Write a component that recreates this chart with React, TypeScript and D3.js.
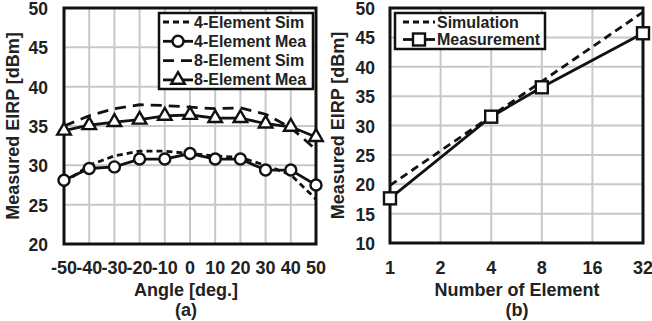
import React from 'react';
import * as d3 from 'd3';

// (a) angle sweep
const angles = [-50, -40, -30, -20, -10, 0, 10, 20, 30, 40, 50];
const sim4 = [27.8, 30.0, 31.2, 31.8, 31.8, 31.5, 31.2, 31.0, 30.0, 28.8, 25.7];
const mea4 = [28.1, 29.6, 29.8, 30.8, 30.8, 31.5, 30.8, 30.8, 29.4, 29.4, 27.5];
const sim8 = [35.0, 36.3, 37.2, 37.7, 37.6, 37.4, 37.2, 37.3, 36.5, 34.8, 32.0];
const mea8 = [34.4, 35.1, 35.5, 35.8, 36.3, 36.4, 36.0, 36.0, 35.3, 34.9, 33.6];
const yTicksA = [20, 25, 30, 35, 40, 45, 50];

// (b) element count
const elements = [1, 2, 4, 8, 16, 32];
const simB = [19.8, 25.7, 31.6, 37.5, 43.4, 49.3];
const meaElements = [1, 4, 8, 32];
const meaB = [17.6, 31.5, 36.5, 45.7];
const yTicksB = [10, 15, 20, 25, 30, 35, 40, 45, 50];

const FONT = 'Arial, "Liberation Sans", sans-serif';
const GRID = '#c8c8c8';
const FS = 18;
const TFS = 17.5;
const LFS = 16;

const App = () => {
  // panel (a)
  const xA = d3.scaleLinear().domain([-50, 50]).range([64, 316]);
  const yA = d3.scaleLinear().domain([20, 50]).range([244, 8]);
  // panel (b)
  const xB = d3.scaleLog().base(2).domain([1, 32]).range([390, 643]);
  const yB = d3.scaleLinear().domain([10, 50]).range([243, 8]);

  const lineA = d3.line<number>().x((_, i) => xA(angles[i])).y(d => yA(d));
  const lineSimB = d3.line<number>().x((_, i) => xB(elements[i])).y(d => yB(d));
  const lineMeaB = d3.line<number>().x((_, i) => xB(meaElements[i])).y(d => yB(d));

  const tri = d3.symbol().type(d3.symbolTriangle).size(80)();

  const legendA = [
    { label: '4-Element Sim', dash: '6,4', marker: 'none' },
    { label: '4-Element Mea', dash: '', marker: 'circle' },
    { label: '8-Element Sim', dash: '11,7', marker: 'none' },
    { label: '8-Element Mea', dash: '', marker: 'tri' },
  ];

  return (
    <svg width={652} height={321} style={{ position: 'absolute', left: 0, top: 0, background: '#fff' }}
      fontFamily={FONT} fontWeight="bold">
      {/* ---------- panel (a) ---------- */}
      <g>
        {angles.map(a => (
          <line key={'gx' + a} x1={xA(a)} x2={xA(a)} y1={yA(50)} y2={yA(20)} stroke={GRID} strokeWidth={2} />
        ))}
        {yTicksA.map(t => (
          <line key={'gy' + t} x1={xA(-50)} x2={xA(50)} y1={yA(t)} y2={yA(t)} stroke={GRID} strokeWidth={2} />
        ))}
        <rect x={xA(-50)} y={yA(50)} width={xA(50) - xA(-50)} height={yA(20) - yA(50)} fill="none" stroke="#111" strokeWidth={3} />
        {yTicksA.map(t => (
          <text key={'ty' + t} x={48} y={yA(t) + 1} textAnchor="end" dominantBaseline="central" fontSize={TFS} fill="#222">{t}</text>
        ))}
        {angles.map(a => (
          <text key={'tx' + a} x={xA(a)} y={268} textAnchor="middle" dominantBaseline="central" fontSize={FS} fill="#222">{a}</text>
        ))}
        <text x={186} y={290} textAnchor="middle" dominantBaseline="central" fontSize={FS} fill="#222">Angle [deg.]</text>
        <text x={186} y={310} textAnchor="middle" dominantBaseline="central" fontSize={FS} fill="#222">(a)</text>
        <text transform={`translate(13,${(yA(20) + yA(50)) / 2}) rotate(-90)`} textAnchor="middle" dominantBaseline="central" fontSize={FS} fill="#222">Measured EIRP [dBm]</text>

        <path d={lineA(sim4) || ''} fill="none" stroke="#111" strokeWidth={2.8} strokeDasharray="6,4" />
        <path d={lineA(sim8) || ''} fill="none" stroke="#111" strokeWidth={2.8} strokeDasharray="11,7" />
        <path d={lineA(mea4) || ''} fill="none" stroke="#111" strokeWidth={2.8} />
        <path d={lineA(mea8) || ''} fill="none" stroke="#111" strokeWidth={2.8} />
        {mea4.map((v, i) => (
          <circle key={'c' + i} cx={xA(angles[i])} cy={yA(v)} r={5.5} fill="#fff" stroke="#111" strokeWidth={2.4} />
        ))}
        {mea8.map((v, i) => (
          <path key={'t' + i} d={tri || ''} transform={`translate(${xA(angles[i])},${yA(v)})`} fill="#fff" stroke="#111" strokeWidth={2.4} />
        ))}

        <rect x={159} y={13} width={154} height={76} fill="#fff" stroke="#111" strokeWidth={2.5} />
        {legendA.map((l, i) => {
          const y = 22 + i * 19.3;
          return (
            <g key={l.label}>
              <line x1={163} x2={193} y1={y} y2={y} stroke="#111" strokeWidth={2.8} strokeDasharray={l.dash || undefined} />
              {l.marker === 'circle' && <circle cx={178} cy={y} r={5.5} fill="#fff" stroke="#111" strokeWidth={2.4} />}
              {l.marker === 'tri' && <path d={tri || ''} transform={`translate(178,${y})`} fill="#fff" stroke="#111" strokeWidth={2.4} />}
              <text x={194} y={y} dominantBaseline="central" fontSize={LFS} fill="#222">{l.label}</text>
            </g>
          );
        })}
      </g>

      {/* ---------- panel (b) ---------- */}
      <g>
        {elements.map(e => (
          <line key={'bgx' + e} x1={xB(e)} x2={xB(e)} y1={yB(50)} y2={yB(10)} stroke={GRID} strokeWidth={2} />
        ))}
        {yTicksB.map(t => (
          <line key={'bgy' + t} x1={xB(1)} x2={xB(32)} y1={yB(t)} y2={yB(t)} stroke={GRID} strokeWidth={2} />
        ))}
        <rect x={xB(1)} y={yB(50)} width={xB(32) - xB(1)} height={yB(10) - yB(50)} fill="none" stroke="#111" strokeWidth={3} />
        {yTicksB.map(t => (
          <text key={'bty' + t} x={375} y={yB(t) + 1} textAnchor="end" dominantBaseline="central" fontSize={TFS} fill="#222">{t}</text>
        ))}
        {elements.map(e => (
          <text key={'btx' + e} x={xB(e)} y={268} textAnchor="middle" dominantBaseline="central" fontSize={FS} fill="#222">{e}</text>
        ))}
        <text x={517} y={290} textAnchor="middle" dominantBaseline="central" fontSize={FS} fill="#222">Number of Element</text>
        <text x={517} y={310} textAnchor="middle" dominantBaseline="central" fontSize={FS} fill="#222">(b)</text>
        <text transform={`translate(338,${(yB(10) + yB(50)) / 2}) rotate(-90)`} textAnchor="middle" dominantBaseline="central" fontSize={FS} fill="#222">Measured EIRP [dBm]</text>

        <path d={lineSimB(simB) || ''} fill="none" stroke="#111" strokeWidth={2.8} strokeDasharray="8,5" />
        <path d={lineMeaB(meaB) || ''} fill="none" stroke="#111" strokeWidth={2.8} />
        {meaB.map((v, i) => (
          <rect key={'sq' + i} x={xB(meaElements[i]) - 6} y={yB(v) - 6} width={12} height={12} fill="#fff" stroke="#111" strokeWidth={2.4} />
        ))}

        <rect x={395} y={13} width={150} height={36} fill="#fff" stroke="#111" strokeWidth={2.5} />
        <line x1={403} x2={435} y1={22} y2={22} stroke="#111" strokeWidth={2.8} strokeDasharray="6,4" />
        <text x={437} y={22} dominantBaseline="central" fontSize={LFS} fill="#222">Simulation</text>
        <line x1={403} x2={435} y1={39.5} y2={39.5} stroke="#111" strokeWidth={2.8} />
        <rect x={413} y={33.5} width={12} height={12} fill="#fff" stroke="#111" strokeWidth={2.4} />
        <text x={437} y={39.5} dominantBaseline="central" fontSize={LFS} fill="#222">Measurement</text>
      </g>
    </svg>
  );
};

export default App;
